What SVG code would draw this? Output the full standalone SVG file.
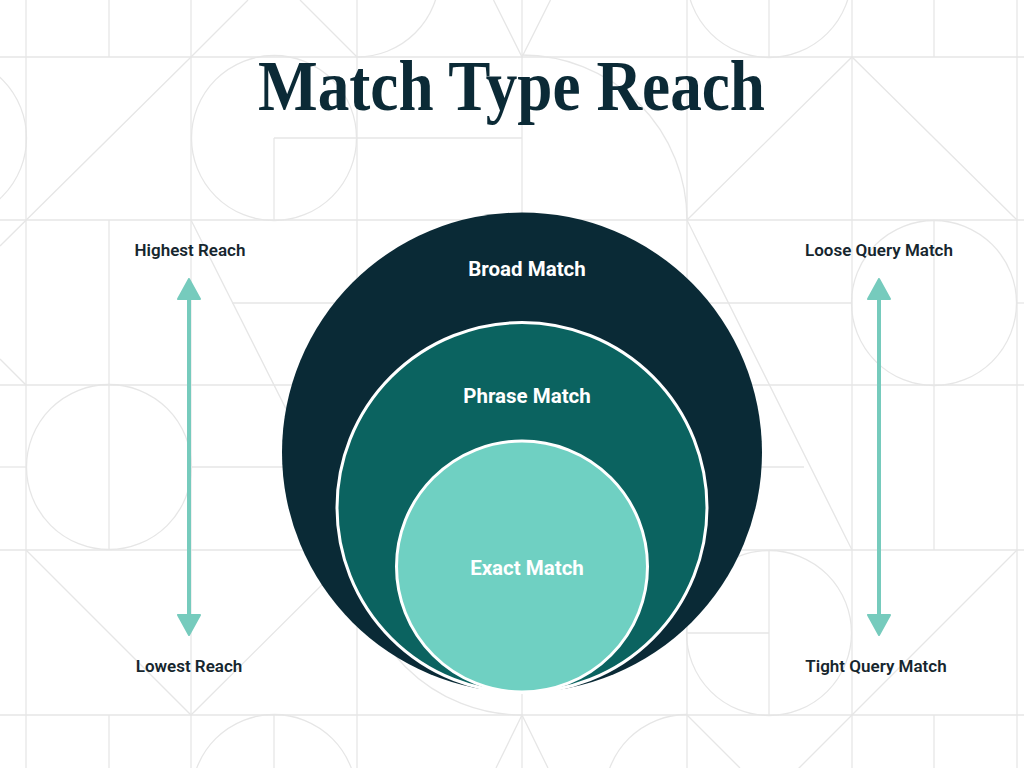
<svg xmlns="http://www.w3.org/2000/svg" width="1024" height="768" viewBox="0 0 1024 768">
  <defs>
    <style>
      .bg line, .bg path, .bg circle { stroke: #e6e6e6; stroke-width: 1.3; fill: none; }
      .title { font-family: "Liberation Serif", "DejaVu Serif", serif; font-weight: 700; font-size: 71px; fill: #0b2a36; }
      .inner { font-family: Roboto, "Liberation Sans", sans-serif; font-weight: 700; font-size: 20.5px; fill: #ffffff; text-anchor: middle; }
      .side { font-family: Roboto, "Liberation Sans", sans-serif; font-weight: 600; font-size: 17px; fill: #16262e; text-anchor: middle; }
      .arrow { stroke: #76cbbd; stroke-width: 4; fill: none; }
      .head { fill: #76cbbd; stroke: #76cbbd; stroke-width: 2; stroke-linejoin: round; }
    </style>
  </defs>
  <rect width="1024" height="768" fill="#ffffff"/>
  <g class="bg" id="background-pattern">
    <line x1="0" y1="57" x2="1024" y2="57"/>
    <line x1="0" y1="220" x2="1024" y2="220"/>
    <line x1="0" y1="385" x2="1024" y2="385"/>
    <line x1="0" y1="550" x2="1024" y2="550"/>
    <line x1="0" y1="715" x2="1024" y2="715"/>
    <line x1="26" y1="0" x2="26" y2="768"/>
    <line x1="191" y1="0" x2="191" y2="768"/>
    <line x1="357" y1="0" x2="357" y2="768"/>
    <line x1="522" y1="0" x2="522" y2="768"/>
    <line x1="687" y1="0" x2="687" y2="768"/>
    <line x1="852" y1="0" x2="852" y2="768"/>
    <line x1="1017" y1="0" x2="1017" y2="768"/>
    <line x1="109" y1="0" x2="109" y2="57"/>
    <line x1="109" y1="220" x2="109" y2="550"/>
    <line x1="109" y1="715" x2="109" y2="768"/>
    <line x1="274" y1="138" x2="274" y2="220"/>
    <line x1="274" y1="715" x2="274" y2="768"/>
    <line x1="769" y1="0" x2="769" y2="57"/>
    <line x1="769" y1="550" x2="769" y2="715"/>
    <line x1="934" y1="0" x2="934" y2="57"/>
    <line x1="934" y1="220" x2="934" y2="550"/>
    <line x1="934" y1="715" x2="934" y2="768"/>
    <line x1="274" y1="138" x2="522" y2="138"/>
    <line x1="232" y1="303" x2="852" y2="303"/>
    <line x1="1017" y1="303" x2="1024" y2="303"/>
    <line x1="0" y1="467" x2="26" y2="467"/>
    <line x1="191" y1="467" x2="804" y2="467"/>
    <line x1="687" y1="633" x2="769" y2="633"/>
    <path d="M0,246 L191,57 L248,0"/>
    <path d="M300,0 L357,57"/>
    <path d="M26,385 L0,359"/>
    <path d="M493.5,0 L522,57 L550.5,0"/>
    <path d="M687,220 L852,57 L1017,220"/>
    <path d="M191,220 L357,550"/>
    <path d="M687,220 L852,550"/>
    <path d="M26,550 L191,715 L357,550"/>
    <path d="M1017,550 L794,773"/>
    <path d="M496,768 L522,715 L548,768"/>
    <path d="M687,715 L740,768"/>
    <circle cx="274" cy="138" r="82.5"/>
    <circle cx="769" cy="-25" r="82.5"/>
    <circle cx="934" cy="303" r="82.5"/>
    <circle cx="109" cy="467" r="82.5"/>
    <circle cx="769" cy="633" r="82.5"/>
    <circle cx="274" cy="797" r="82.5"/>
    <circle cx="-56" cy="138" r="82.5"/>
    <path d="M522,55 A165,165 0 0 1 687,220"/>
    <path d="M357,550 A165,165 0 0 0 522,715"/>
    <path d="M604.5,797 A82.5,82.5 0 0 1 687,714.5"/>
    <path d="M357,57 A82.5,82.5 0 0 0 439.5,-25"/>
  </g>
  <g id="title">
    <text class="title" x="258" y="110" textLength="507" lengthAdjust="spacingAndGlyphs">Match Type Reach</text>
  </g>
  <g id="broad-match">
    <circle cx="522" cy="452.5" r="240" fill="#0a2a36"/>
    <text class="inner" x="527" y="276">Broad Match</text>
  </g>
  <g id="phrase-match">
    <circle cx="522" cy="507.5" r="185" fill="#0b6360" stroke="#ffffff" stroke-width="3"/>
    <text class="inner" x="527" y="403">Phrase Match</text>
  </g>
  <g id="exact-match">
    <circle cx="522" cy="566.5" r="125.5" fill="#6fd0c2" stroke="#ffffff" stroke-width="3"/>
    <text class="inner" x="527" y="575">Exact Match</text>
  </g>
  <g id="labels">
    <text class="side" x="190" y="256">Highest Reach</text>
    <text class="side" x="189" y="672">Lowest Reach</text>
    <text class="side" x="879" y="256">Loose Query Match</text>
    <text class="side" x="876" y="672">Tight Query Match</text>
  </g>
  <g id="connectors">
    <line class="arrow" x1="189" y1="296" x2="189" y2="618"/>
    <polygon class="head" points="189,279 178,299 200,299"/>
    <polygon class="head" points="189,635 178,615 200,615"/>
    <line class="arrow" x1="879" y1="296" x2="879" y2="618"/>
    <polygon class="head" points="879,279 868,299 890,299"/>
    <polygon class="head" points="879,635 868,615 890,615"/>
  </g>
</svg>
